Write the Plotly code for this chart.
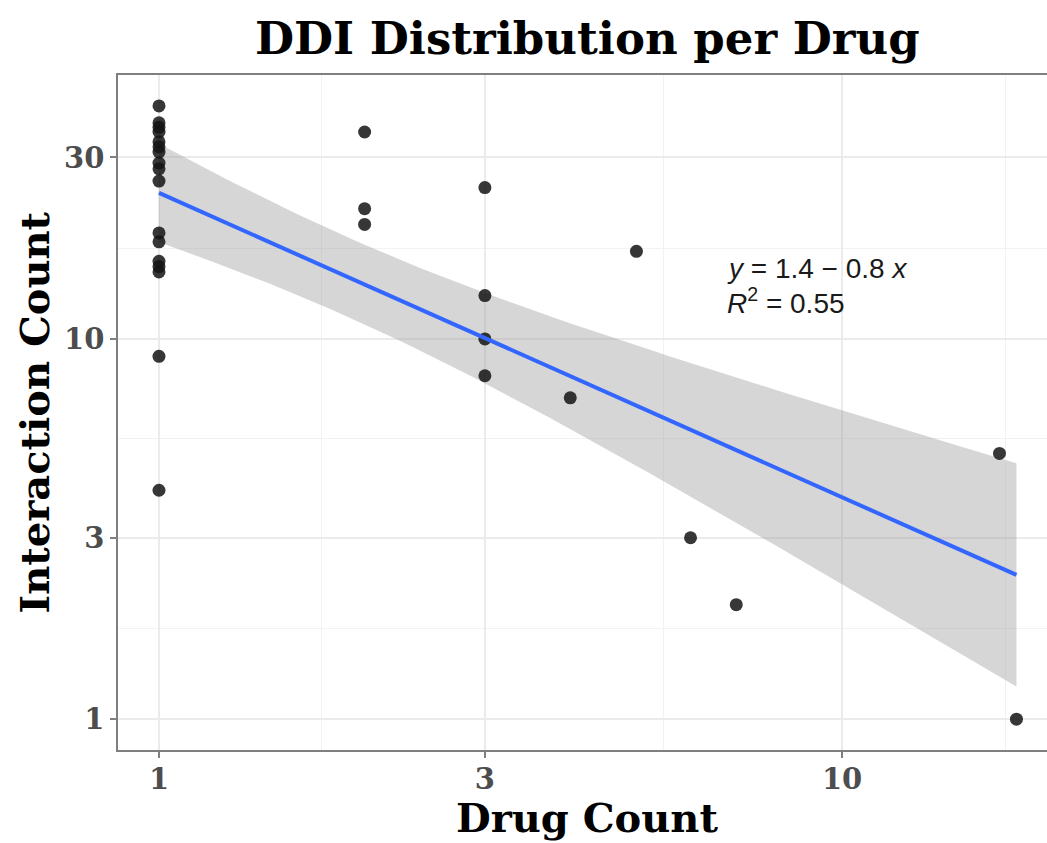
import numpy as np
import plotly.graph_objects as go

# Data
drug_count = [1]*17 + [2, 2, 2] + [3, 3, 3, 3] + [4, 5, 6, 7, 17, 18]
interaction_count = [41, 37, 36, 35, 33, 32, 31, 29, 28, 26, 19, 18, 16, 15.5, 15, 9, 4,
                     35, 22, 20,
                     25, 13, 10, 8,
                     7, 17, 3, 2, 5, 1]

x_ticks = [1, 3, 10]
y_ticks = [1, 3, 10, 30]

# Linear fit on log10-log10 (like geom_smooth(method="lm") on log scales)
lx = np.log10(np.array(drug_count, dtype=float))
ly = np.log10(np.array(interaction_count, dtype=float))
n = len(lx)
b1, b0 = np.polyfit(lx, ly, 1)
resid = ly - (b0 + b1 * lx)
df = n - 2
s = np.sqrt(np.sum(resid**2) / df)
xbar = lx.mean()
sxx = np.sum((lx - xbar)**2)
z = 1.959964
tq = z + (z**3 + z) / (4*df) + (5*z**5 + 16*z**3 + 3*z) / (96*df**2)
gx = np.linspace(lx.min(), lx.max(), 80)
gy = b0 + b1 * gx
se = s * np.sqrt(1.0/n + (gx - xbar)**2 / sxx)
upper = 10**(gy + tq*se)
lower = 10**(gy - tq*se)
fx = 10**gx
fy = 10**gy

fig = go.Figure()
fig.add_trace(go.Scatter(x=np.concatenate([fx, fx[::-1]]),
                         y=np.concatenate([upper, lower[::-1]]),
                         fill="toself", fillcolor="rgba(153,153,153,0.4)",
                         line=dict(width=0), mode="lines", hoverinfo="skip",
                         showlegend=False))
fig.add_trace(go.Scatter(x=drug_count, y=interaction_count, mode="markers",
                         marker=dict(size=13, color="rgba(20,20,20,0.85)", line=dict(width=0)),
                         showlegend=False))
fig.add_trace(go.Scatter(x=fx, y=fy, mode="lines",
                         line=dict(color="#3366FF", width=4), showlegend=False))

ann_font = dict(family="Liberation Sans, Arial", size=28, color="#1a1a1a")
fig.add_annotation(x=np.log10(6.75), y=np.log10(15.3), xref="x", yref="y",
                   xanchor="left", yanchor="middle", showarrow=False,
                   text="<i>y</i> = 1.4 − 0.8 <i>x</i>", font=ann_font)
fig.add_annotation(x=np.log10(6.75), y=np.log10(12.6), xref="x", yref="y",
                   xanchor="left", yanchor="middle", showarrow=False,
                   text="<i>R</i><sup>2</sup> = 0.55", font=ann_font)

serif = "DejaVu Serif"
# axis titles as annotations for exact placement
fig.add_annotation(x=0.505, y=0, xref="paper", yref="paper", yshift=-93,
                   xanchor="center", yanchor="bottom", showarrow=False,
                   text="<b>Drug Count</b>", font=dict(family=serif, size=40, color="black"))
fig.add_annotation(x=0, y=0.5, xref="paper", yref="paper", xshift=-84,
                   xanchor="center", yanchor="middle", showarrow=False, textangle=-90,
                   text="<b>Interaction Count</b>", font=dict(family=serif, size=40, color="black"))

fig.update_layout(
    width=1047, height=843,
    margin=dict(l=118, r=0, t=75, b=93),
    paper_bgcolor="white", plot_bgcolor="white",
    title=dict(text="<b>DDI Distribution per Drug</b>", x=0.561, xanchor="center",
               y=0.955, yanchor="middle",
               font=dict(family=serif, size=45, color="black")),
    xaxis=dict(type="log", range=[-0.060, 1.300], automargin=False,
               tickvals=x_ticks, ticktext=[f"<b>{v}</b>" for v in x_ticks],
               tickfont=dict(family=serif, size=29, color="#4d4d4d"),
               ticks="outside", ticklen=6, tickcolor="#7f7f7f", tickwidth=1.5,
               ticklabelstandoff=-4,
               showgrid=True, gridcolor="#ebebeb", gridwidth=1.5,
               minor=dict(tickvals=[10**0.2386, 10**0.7386, 10**1.2386], showgrid=True,
                          gridcolor="#f2f2f2", gridwidth=1, ticks=""),
               showline=True, linecolor="#7f7f7f", linewidth=1.5, mirror=True,
               zeroline=False),
    yaxis=dict(type="log", range=[-0.081, 1.694], automargin=False,
               tickvals=y_ticks, ticktext=[f"<b>{v}</b>" for v in y_ticks],
               tickfont=dict(family=serif, size=29, color="#4d4d4d"),
               ticks="outside", ticklen=6, tickcolor="#7f7f7f", tickwidth=1.5,
               showgrid=True, gridcolor="#ebebeb", gridwidth=1.5,
               minor=dict(tickvals=[10**0.2386, 10**0.7386, 10**1.2386], showgrid=True,
                          gridcolor="#f2f2f2", gridwidth=1, ticks=""),
               showline=True, linecolor="#7f7f7f", linewidth=1.5, mirror=False,
               zeroline=False),
)

fig.write_html("out.html", config={"displayModeBar": False},
               post_script="document.body.style.margin='0';")
